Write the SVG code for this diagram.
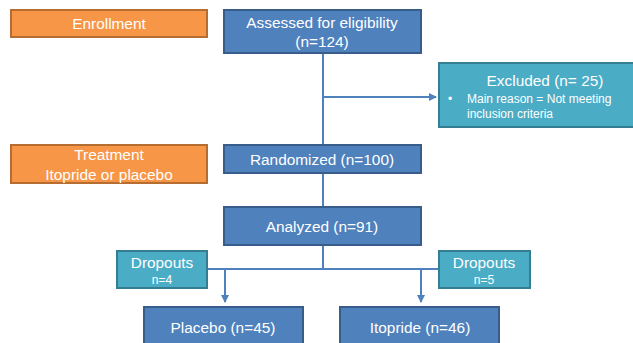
<svg xmlns="http://www.w3.org/2000/svg" width="633" height="343" viewBox="0 0 633 343">
<defs>
<marker id="ah" markerWidth="8" markerHeight="8" refX="7" refY="4" orient="auto" markerUnits="userSpaceOnUse">
<path d="M0,0 L8,4 L0,8 Z" fill="#4F81BD"/>
</marker>
<style>
.blue{fill:#4F81BD;stroke:#385D8A;stroke-width:2}
.orange{fill:#F79646;stroke:#B66D31;stroke-width:2}
.teal{fill:#4BACC6;stroke:#357D91;stroke-width:2}
text{font-family:"Liberation Sans",Arial,sans-serif;fill:#fff;text-anchor:middle}
.t{font-size:15.4px}
.s{font-size:12px}
.c line,.c path{stroke:#4F81BD;stroke-width:2;fill:none}
</style>
</defs>
<rect width="633" height="343" fill="#fff"/>
<g class="c" id="connectors">
<line x1="323" y1="53" x2="323" y2="145"/>
<line x1="323" y1="97" x2="436" y2="97" marker-end="url(#ah)"/>
<line x1="323" y1="173" x2="323" y2="207"/>
<line x1="323" y1="245" x2="323" y2="269"/>
<line x1="207" y1="269" x2="439" y2="269"/>
<line x1="225" y1="269" x2="225" y2="302" marker-end="url(#ah)"/>
<line x1="421" y1="269" x2="421" y2="302" marker-end="url(#ah)"/>
</g>
<g id="enrollment"><rect class="orange" x="11" y="10" width="196" height="27"/><text class="t" x="109" y="29">Enrollment</text></g>
<g id="assessed"><rect class="blue" x="224" y="10" width="197" height="43"/><text class="t" x="322" y="28">Assessed for eligibility</text><text class="t" x="322" y="47">(n=124)</text></g>
<g id="excluded"><rect class="teal" x="439" y="63" width="200" height="64"/><text class="t" x="545" y="86">Excluded (n= 25)</text><text class="s" x="448" y="103" style="text-anchor:start">•</text><text class="s" x="467" y="103" style="text-anchor:start">Main reason = Not meeting</text><text class="s" x="467" y="118" style="text-anchor:start">inclusion criteria</text></g>
<g id="treatment"><rect class="orange" x="11" y="145" width="196" height="38"/><text class="t" x="109" y="160">Treatment</text><text class="t" x="109" y="180">Itopride or placebo</text></g>
<g id="randomized"><rect class="blue" x="224" y="145" width="197" height="28"/><text class="t" x="322" y="165">Randomized (n=100)</text></g>
<g id="analyzed"><rect class="blue" x="224" y="207" width="197" height="38"/><text class="t" x="322" y="232">Analyzed (n=91)</text></g>
<g id="dropouts-left"><rect class="teal" x="117" y="251" width="90" height="37"/><text class="t" x="162" y="268">Dropouts</text><text class="s" x="162" y="284">n=4</text></g>
<g id="dropouts-right"><rect class="teal" x="439" y="251" width="91" height="37"/><text class="t" x="484" y="268">Dropouts</text><text class="s" x="484" y="284">n=5</text></g>
<g id="placebo"><rect class="blue" x="144" y="307" width="159" height="40"/><text class="t" x="223" y="333">Placebo (n=45)</text></g>
<g id="itopride"><rect class="blue" x="340" y="307" width="159" height="40"/><text class="t" x="420" y="333">Itopride (n=46)</text></g>
</svg>
